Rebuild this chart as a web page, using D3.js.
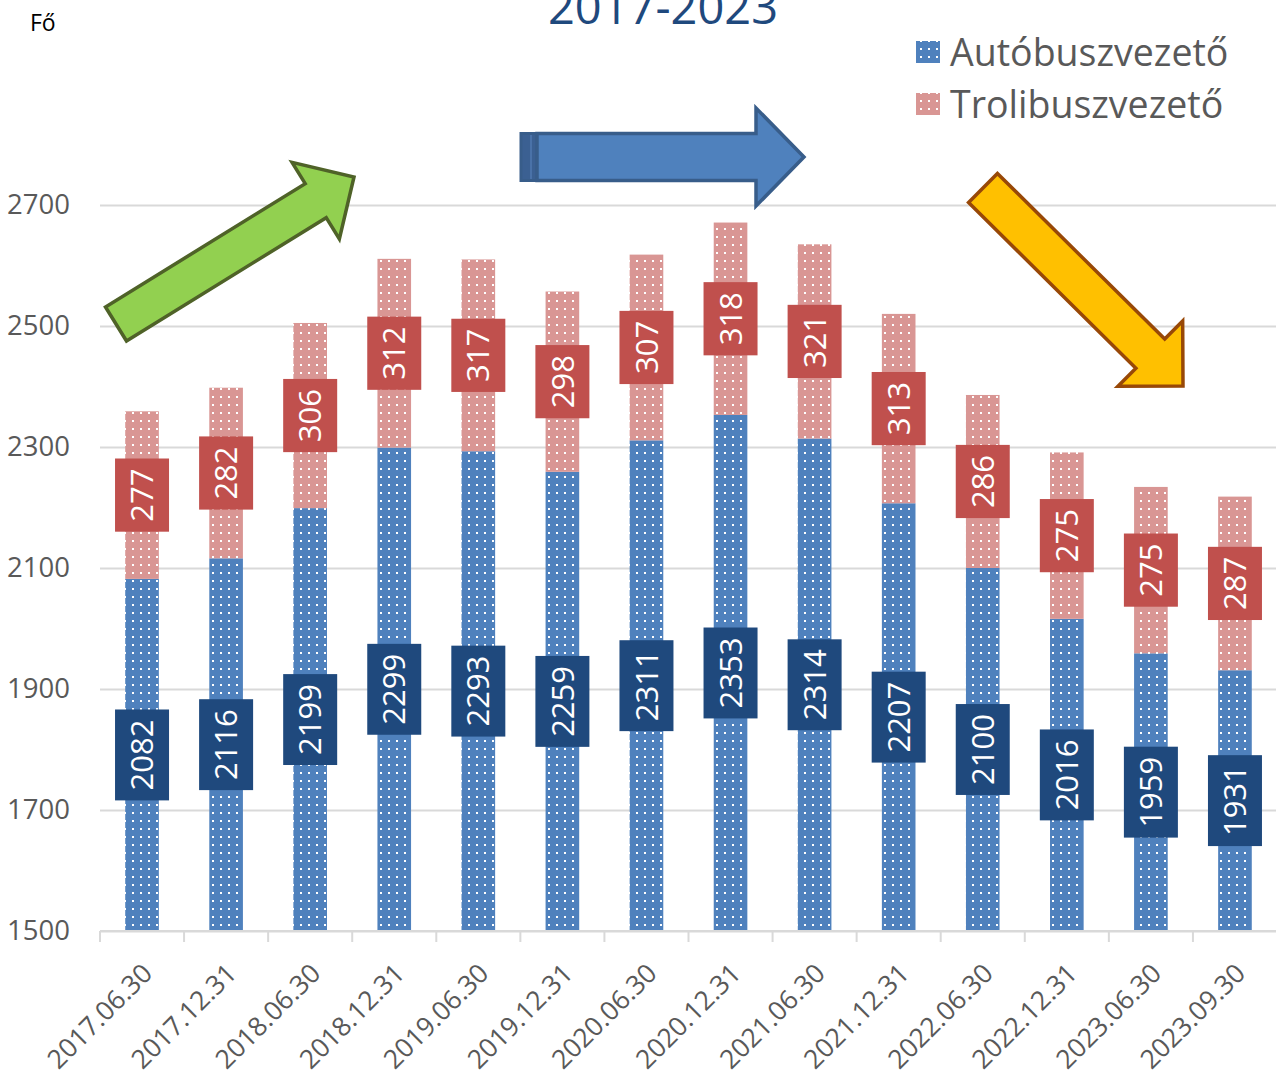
<!DOCTYPE html>
<html>
<head>
<meta charset="utf-8">
<script src="https://cdn.jsdelivr.net/npm/d3@7"></script>
<style>
  body { margin: 0; background: #fff; }
  svg { display: block; font-family: "Open Sans", sans-serif; }
</style>
</head>
<body>
<svg id="chart" width="1276" height="1078"></svg>
<script>
const FRAME_WIDTH = 1276;
const FRAME_HEIGHT = 1078;
const MARGINS = {left: 100, right: -1, top: 205, bottom: 147};

// data
const CATEGORIES = ["2017.06.30", "2017.12.31", "2018.06.30", "2018.12.31", "2019.06.30",
                    "2019.12.31", "2020.06.30", "2020.12.31", "2021.06.30", "2021.12.31",
                    "2022.06.30", "2022.12.31", "2023.06.30", "2023.09.30"];
const BUS = [2082, 2116, 2199, 2299, 2293, 2259, 2311, 2353, 2314, 2207, 2100, 2016, 1959, 1931];
const TROLLEY = [277, 282, 306, 312, 317, 298, 307, 318, 321, 313, 286, 275, 275, 287];
const SERIES = ["Autóbuszvezető", "Trolibuszvezető"];
const Y_TICKS = [1500, 1700, 1900, 2100, 2300, 2500, 2700];
const Y_MIN = 1500;

const COLORS = {bus: "#4F81BD", trolley: "#D99694", busBox: "#1F497D", trolleyBox: "#C0504D",
                grid: "#D9D9D9", text: "#595959"};

const SVG = d3.select("#chart");

// dotted fills
const defs = SVG.append("defs");
[["dotsBus", COLORS.bus], ["dotsTrolley", COLORS.trolley]].forEach(([id, col]) => {
  const p = defs.append("pattern")
      .attr("id", id)
      .attr("patternUnits", "userSpaceOnUse")
      .attr("width", 8).attr("height", 8)
      .attr("x", 1).attr("y", 1);
  p.append("rect").attr("width", 8).attr("height", 8).attr("fill", col);
  p.append("rect").attr("x", 3).attr("y", 3).attr("width", 2).attr("height", 2).attr("fill", "#fff");
});

const X_SCALE = d3.scaleBand()
    .domain(CATEGORIES)
    .range([MARGINS.left, FRAME_WIDTH - MARGINS.right])
    .paddingInner(0.6)
    .paddingOuter(0.3);

const Y_SCALE = d3.scaleLinear()
    .domain([1500, 2700])
    .range([FRAME_HEIGHT - MARGINS.bottom, MARGINS.top]);

// gridlines
SVG.append("g")
    .attr("transform", "translate(" + MARGINS.left + ",0)")
    .call(d3.axisLeft(Y_SCALE).tickValues(Y_TICKS).tickSize(-(FRAME_WIDTH - MARGINS.left)).tickFormat(""))
    .call(g => g.select(".domain").remove())
    .call(g => g.selectAll("line").attr("stroke", COLORS.grid).attr("stroke-width", 2));

// y labels
SVG.append("g")
    .attr("transform", "translate(70,0)")
    .call(d3.axisLeft(Y_SCALE).tickValues(Y_TICKS).tickSize(0).tickPadding(0).tickFormat(d3.format("d")))
    .call(g => g.select(".domain").remove())
    .call(g => g.selectAll("text")
        .attr("font-family", "Open Sans").attr("font-size", "27.5px").attr("fill", COLORS.text));

// stacked bars (bus bars start at the axis minimum)
const rows = CATEGORIES.map((c, i) => ({cat: c, bus: BUS[i], trolley: TROLLEY[i]}));
const stacked = d3.stack().keys(["bus", "trolley"])(rows);
const fills = {bus: "url(#dotsBus)", trolley: "url(#dotsTrolley)"};
const segLow = (layer, d) => layer.key === "bus" ? Math.max(d[0], Y_MIN) : d[0];

stacked.forEach(layer => {
  SVG.append("g").selectAll("rect")
      .data(layer)
      .enter()
      .append("rect")
        .attr("x", d => X_SCALE(d.data.cat))
        .attr("width", X_SCALE.bandwidth())
        .attr("y", d => Y_SCALE(d[1]))
        .attr("height", d => Y_SCALE(segLow(layer, d)) - Y_SCALE(d[1]))
        .attr("fill", fills[layer.key]);
});

// x axis line + boundary ticks
const AXIS_Y = Y_SCALE(Y_MIN);
SVG.append("line")
    .attr("x1", MARGINS.left).attr("x2", FRAME_WIDTH)
    .attr("y1", AXIS_Y).attr("y2", AXIS_Y)
    .attr("stroke", COLORS.grid).attr("stroke-width", 2);
SVG.append("g").selectAll("line")
    .data(CATEGORIES)
    .enter()
    .append("line")
      .attr("x1", d => X_SCALE(d) - X_SCALE.step() * X_SCALE.paddingInner() / 2)
      .attr("x2", d => X_SCALE(d) - X_SCALE.step() * X_SCALE.paddingInner() / 2)
      .attr("y1", AXIS_Y).attr("y2", AXIS_Y + 11)
      .attr("stroke", COLORS.grid).attr("stroke-width", 2);

// x labels, rotated
SVG.append("g")
    .attr("transform", "translate(0," + AXIS_Y + ")")
    .call(d3.axisBottom(X_SCALE).tickSize(0))
    .call(g => g.select(".domain").remove())
    .call(g => g.selectAll(".tick text")
        .attr("font-family", "Open Sans").attr("font-size", "26.5px").attr("fill", COLORS.text)
        .attr("text-anchor", "end")
        .attr("dy", 0).attr("y", 0)
        .attr("transform", "translate(12,44) rotate(-45)"));

// data label boxes, centred on the visible part of each segment
function labelBoxes(layer, boxColor) {
  const g = SVG.append("g").selectAll("g")
      .data(layer)
      .enter()
      .append("g")
        .attr("transform", d => {
          const mid = (Y_SCALE(segLow(layer, d)) + Y_SCALE(d[1])) / 2;
          return "translate(" + (X_SCALE(d.data.cat) + X_SCALE.bandwidth() / 2) + "," + mid + ")";
        });
  g.append("rect").attr("fill", boxColor);
  g.append("text")
      .attr("transform", "rotate(-90)")
      .attr("text-anchor", "middle")
      .attr("dy", "0.36em")
      .attr("font-size", "31px")
      .attr("fill", "#fff")
      .text(d => d.data[layer.key]);
  g.each(function() {
    const len = d3.select(this).select("text").node().getComputedTextLength();
    const h = len + 20;
    d3.select(this).select("rect")
        .attr("x", -27).attr("width", 54)
        .attr("y", -h / 2).attr("height", h);
  });
}
labelBoxes(stacked[0], COLORS.busBox);
labelBoxes(stacked[1], COLORS.trolleyBox);

// arrows (decoration)
function arrowPath(x0, y0, x1, y1, sw, hw, hl) {
  const len = Math.hypot(x1 - x0, y1 - y0);
  const ux = (x1 - x0) / len, uy = (y1 - y0) / len;
  const nx = -uy, ny = ux;
  const bx = x1 - ux * hl, by = y1 - uy * hl;
  const pts = [
    [x0 + nx * sw / 2, y0 + ny * sw / 2],
    [bx + nx * sw / 2, by + ny * sw / 2],
    [bx + nx * hw / 2, by + ny * hw / 2],
    [x1, y1],
    [bx - nx * hw / 2, by - ny * hw / 2],
    [bx - nx * sw / 2, by - ny * sw / 2],
    [x0 - nx * sw / 2, y0 - ny * sw / 2]
  ];
  return "M" + pts.map(p => p.join(",")).join("L") + "Z";
}
const ARROWS = [
  {tail: [116, 324], tip: [354, 177], sw: 40, hw: 90, hl: 45, fill: "#92D050", stroke: "#4F6228"},
  {tail: [537, 157], tip: [804, 157], sw: 47, hw: 98, hl: 48, fill: "#4F81BD", stroke: "#385D8A"},
  {tail: [983, 188], tip: [1183, 386], sw: 41, hw: 92, hl: 46, fill: "#FFC000", stroke: "#984807"}
];
SVG.append("rect")
    .attr("x", 521).attr("y", 133.5).attr("width", 16).attr("height", 47)
    .attr("fill", "#3B6092").attr("stroke", "#385D8A").attr("stroke-width", 3);
SVG.append("line")
    .attr("x1", 531).attr("x2", 531).attr("y1", 135).attr("y2", 179)
    .attr("stroke", "#4A72A8").attr("stroke-width", 2);
SVG.append("g").selectAll("path")
    .data(ARROWS)
    .enter()
    .append("path")
      .attr("d", d => arrowPath(d.tail[0], d.tail[1], d.tip[0], d.tip[1], d.sw, d.hw, d.hl))
      .attr("fill", d => d.fill)
      .attr("stroke", d => d.stroke)
      .attr("stroke-width", 3.5)
      .attr("stroke-linejoin", "miter");

// title (cut off at top, as in the source) and unit
SVG.append("text")
    .attr("x", 663).attr("y", 24)
    .attr("text-anchor", "middle")
    .attr("font-size", "47px")
    .attr("fill", "#1F497D")
    .text("2017-2023");
SVG.append("text")
    .attr("x", 30).attr("y", 31)
    .attr("font-size", "23px")
    .attr("fill", "#000")
    .text("Fő");

// legend
const legend = SVG.append("g").selectAll("g")
    .data(SERIES)
    .enter()
    .append("g")
      .attr("transform", (d, i) => "translate(916," + (52 + i * 52) + ")");
legend.append("rect")
    .attr("x", 0).attr("y", -11).attr("width", 24).attr("height", 22)
    .attr("fill", (d, i) => i === 0 ? "url(#dotsBus)" : "url(#dotsTrolley)");
legend.append("text")
    .attr("x", 34).attr("dy", "0.36em")
    .attr("font-size", "37.5px")
    .attr("fill", COLORS.text)
    .text(d => d);
</script>
</body>
</html>
